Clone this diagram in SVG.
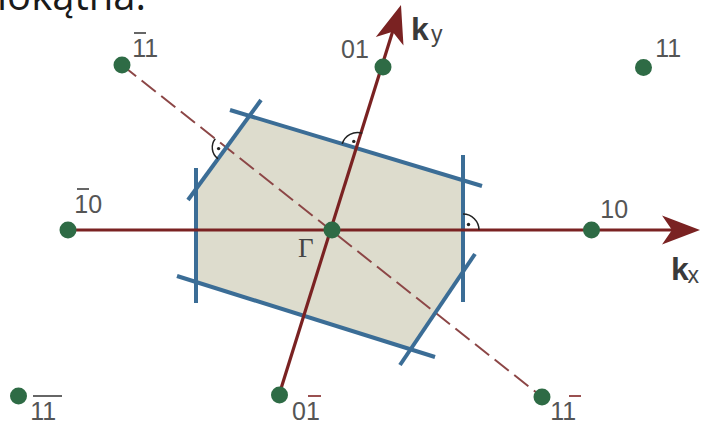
<svg xmlns="http://www.w3.org/2000/svg" width="701" height="424" viewBox="0 0 701 424">
<style>
.zone{fill:#dddccd;stroke:none}
.edge{stroke:#3b6d96;stroke-width:4;fill:none;stroke-linecap:butt}
.axis{stroke:#7a2222;stroke-width:3.2;fill:none}
.diag{stroke:#8c4646;stroke-width:2;stroke-dasharray:18 7;fill:none}
.pt{fill:#2e6b45}
.lbl{font-family:"Liberation Sans",Arial,sans-serif;font-size:25px;fill:#555}
.bar{stroke:#666;stroke-width:2}
.barr{stroke:#9a5050;stroke-width:2}
.mark{stroke:#222;stroke-width:1.5;fill:none}
.dot{fill:#222}
.kk{font-family:"Liberation Sans",Arial,sans-serif;font-weight:bold;font-size:32px;fill:#3a3a3a}
.sub{font-family:"Liberation Sans",Arial,sans-serif;font-size:23px;fill:#444}
</style>
<defs>
<marker id="arr" markerUnits="userSpaceOnUse" viewBox="-40 -16 42 32" refX="-10" refY="0" markerWidth="42" markerHeight="32" orient="auto">
<path d="M0,0 L-38,-14.5 L-28,0 L-38,14.5 Z" fill="#7a2222"/>
</marker>
</defs>

<text x="-3" y="10" font-family="'Open Sans','Noto Sans',sans-serif" font-size="40" fill="#1a1a1a">lokątna.</text>

<g id="zone">
<polygon class="zone" points="249.5,116 463,180 463,272 410.6,349.3 196,282 196,190"/>
</g>

<g id="connectors">
<line class="diag" x1="122" y1="65" x2="542" y2="397"/>
<g id="zone-edges">
<line class="edge" x1="230" y1="110" x2="482" y2="186"/>
<line class="edge" x1="463" y1="155" x2="463" y2="302"/>
<line class="edge" x1="475" y1="254" x2="400" y2="365"/>
<line class="edge" x1="177" y1="276" x2="435" y2="357"/>
<line class="edge" x1="196" y1="168" x2="196" y2="303"/>
<line class="edge" x1="261" y1="100" x2="188" y2="200"/>
</g>
<line id="kx-axis" class="axis" x1="68" y1="230" x2="690" y2="230" marker-end="url(#arr)"/>
<line id="ky-axis" class="axis" x1="279" y1="395" x2="398" y2="14.5" marker-end="url(#arr)"/>
<g id="right-angles">
<path class="mark" d="M215.3,138.8 A14,14 0 0 0 218.0,158.8"/>
<circle class="dot" cx="218.6" cy="148.6" r="1.7"/>
<path class="mark" d="M362.3,133.2 A16,16 0 0 0 342.2,143.9"/>
<circle class="dot" cx="353.8" cy="141.4" r="1.7"/>
<path class="mark" d="M463,214 A16,16 0 0 1 479,230"/>
<circle class="dot" cx="468.5" cy="224.5" r="1.7"/>
</g>
</g>

<g id="node-m11">
<circle class="pt" cx="122" cy="65" r="8.5"/>
<text class="lbl" x="132.3" y="57">11</text>
<line class="bar" x1="134" y1="33" x2="146" y2="33"/>
</g>
<g id="node-01">
<circle class="pt" cx="383" cy="67" r="8.5"/>
<text class="lbl" x="341" y="58">01</text>
</g>
<g id="node-11">
<circle class="pt" cx="643.5" cy="67.5" r="8.5"/>
<text class="lbl" x="655.3" y="57">11</text>
</g>
<g id="node-m10">
<circle class="pt" cx="68" cy="230" r="8.5"/>
<text class="lbl" x="74.3" y="213">10</text>
<line class="bar" x1="77" y1="189" x2="89" y2="189"/>
</g>
<g id="node-gamma">
<circle class="pt" cx="332" cy="230" r="8.5"/>
<text x="298" y="257" font-family="'Liberation Serif','Times New Roman',serif" font-size="27" fill="#444">Γ</text>
</g>
<g id="node-10">
<circle class="pt" cx="591.5" cy="230" r="8.5"/>
<text class="lbl" x="600.3" y="218">10</text>
</g>
<g id="node-m1m1">
<circle class="pt" cx="18.5" cy="396" r="8.5"/>
<text class="lbl" x="30.3" y="420">11</text>
<line class="bar" x1="33" y1="396" x2="62" y2="396"/>
</g>
<g id="node-0m1">
<circle class="pt" cx="279.5" cy="395" r="8.5"/>
<text class="lbl" x="292" y="420">01</text>
<line class="barr" x1="308" y1="396" x2="321" y2="396"/>
</g>
<g id="node-1m1">
<circle class="pt" cx="542" cy="397" r="8.5"/>
<text class="lbl" x="550.3" y="420">11</text>
<line class="barr" x1="569" y1="396" x2="581" y2="396"/>
</g>

<g id="axis-labels">
<text x="411" y="40"><tspan class="kk">k</tspan><tspan class="sub" x="431" y="42">y</tspan></text>
<text x="671" y="280"><tspan class="kk">k</tspan><tspan class="sub" x="687.5" y="283">x</tspan></text>
</g>
</svg>
